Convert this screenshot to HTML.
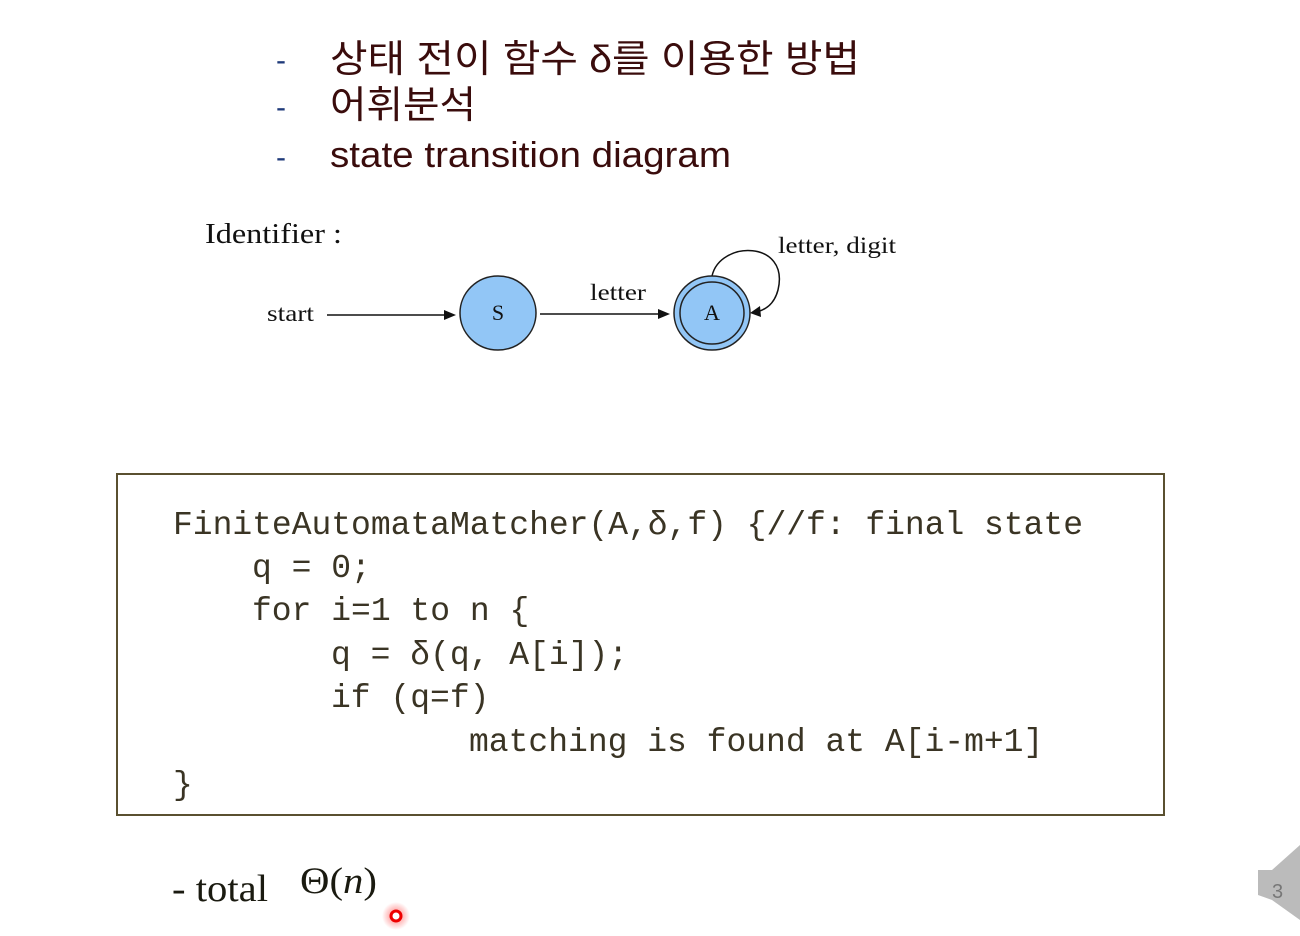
<!DOCTYPE html>
<html><head><meta charset="utf-8"><style>
html,body{margin:0;padding:0;background:#fff;width:1300px;height:936px;overflow:hidden}
svg{display:block}
</style></head><body>
<svg width="1300" height="936" viewBox="0 0 1300 936" xmlns="http://www.w3.org/2000/svg">
<defs><radialGradient id="rg"><stop offset="0" stop-color="#ff4040" stop-opacity="0.7"/><stop offset="1" stop-color="#ff4040" stop-opacity="0"/></radialGradient></defs>
<g font-family="'Liberation Sans','Noto Sans CJK KR',sans-serif" font-size="38" fill="#3a0c0c">
<text x="276" y="70" fill="#1f3a7a" font-size="30">-</text>
<text x="330" y="72" textLength="530" lengthAdjust="spacingAndGlyphs">상태 전이 함수 δ를 이용한 방법</text>
<text x="276" y="117" fill="#1f3a7a" font-size="30">-</text>
<text x="330" y="118" textLength="146" lengthAdjust="spacingAndGlyphs">어휘분석</text>
<text x="276" y="167" fill="#1f3a7a" font-size="30">-</text>
<text x="330" y="167" font-size="36" textLength="401" lengthAdjust="spacingAndGlyphs">state transition diagram</text>
</g>
<g font-family="'Liberation Serif',serif" fill="#111">
<text x="205" y="243" font-size="29" textLength="137" lengthAdjust="spacingAndGlyphs">Identifier :</text>
<text x="267" y="321" font-size="23" textLength="47" lengthAdjust="spacingAndGlyphs">start</text>
<text x="590" y="300" font-size="23" textLength="56" lengthAdjust="spacingAndGlyphs">letter</text>
<text x="778" y="253" font-size="23" textLength="118" lengthAdjust="spacingAndGlyphs">letter, digit</text>
</g>
<g stroke="#111" stroke-width="1.5" fill="none">
<line x1="327" y1="315" x2="448" y2="315"/>
<line x1="540" y1="314" x2="662" y2="314"/>
<path d="M712 276 C 720 240, 790 240, 778 290 C 774 305, 765 310, 756 312"/>
</g>
<g fill="#111">
<polygon points="456,315 444,310 444,320"/>
<polygon points="670,314 658,309 658,319"/>
<polygon points="750,313 760,306 761,317"/>
</g>
<ellipse cx="498" cy="313" rx="38" ry="37" fill="#92c6f6" stroke="#222" stroke-width="1.5"/>
<ellipse cx="712" cy="313" rx="38" ry="37" fill="#92c6f6" stroke="#222" stroke-width="1.5"/>
<ellipse cx="712" cy="313" rx="32" ry="31" fill="none" stroke="#222" stroke-width="1.5"/>
<g font-family="'Liberation Serif',serif" font-size="22" fill="#111" text-anchor="middle">
<text x="498" y="320">S</text><text x="712" y="320">A</text>
</g>
<rect x="117" y="474" width="1047" height="341" fill="none" stroke="#5a5030" stroke-width="2"/>
<g font-family="'Liberation Mono',monospace" font-size="33" fill="#3a3424">
<text x="173" y="534" textLength="910">FiniteAutomataMatcher(A,δ,f) {//f: final state</text>
<text x="252" y="577">q = 0;</text>
<text x="252" y="620">for i=1 to n {</text>
<text x="331" y="664">q = δ(q, A[i]);</text>
<text x="331" y="707">if (q=f)</text>
<text x="469" y="751">matching is found at A[i-m+1]</text>
<text x="173" y="794">}</text>
</g>
<g font-family="'Liberation Serif',serif" fill="#1a1a10">
<text x="172" y="901" font-size="38" textLength="96" lengthAdjust="spacingAndGlyphs">- total</text>
<text x="300" y="893" font-size="37" textLength="77" lengthAdjust="spacingAndGlyphs">Θ(<tspan font-style="italic">n</tspan>)</text>
</g>
<circle cx="396" cy="916" r="14" fill="url(#rg)"/>
<circle cx="396" cy="916" r="5" fill="#fff" stroke="#e00" stroke-width="3"/>
<polygon points="1300,845 1272,870 1258,870 1258,895 1272,900 1300,920" fill="#bbb"/>
<text x="1272" y="898" font-family="'Liberation Sans',sans-serif" font-size="20" fill="#777">3</text>
</svg>
</body></html>
